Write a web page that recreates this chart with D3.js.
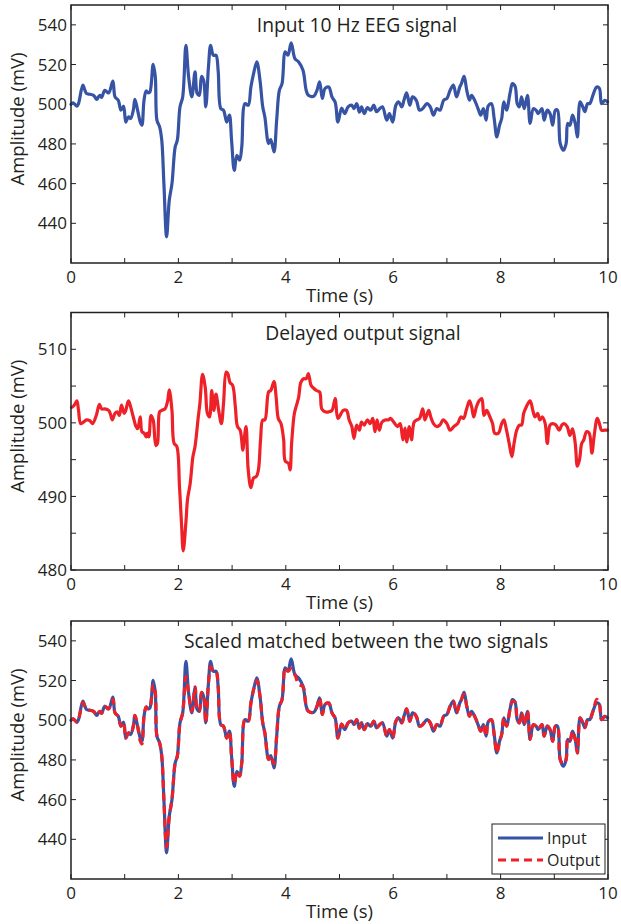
<!DOCTYPE html>
<html>
<head>
<meta charset="utf-8">
<script src="https://cdn.jsdelivr.net/npm/d3@7"></script>
<style>
  html, body { margin: 0; padding: 0; background: #fff; }
  svg { display: block; }
  text { font-family: "Open Sans", "Noto Sans", sans-serif; fill: #231f20; }
</style>
</head>
<body>
<svg id="chart" width="621" height="924"></svg>
<script>
// ---------------- DATA ----------------
const inputTime = [0.00,0.04,0.11,0.14,0.22,0.26,0.29,0.35,0.42,0.48,0.51,0.54,0.57,0.63,0.70,0.78,0.82,0.88,0.93,0.98,
1.02,1.07,1.11,1.16,1.19,1.24,1.29,1.32,1.36,1.40,1.44,1.47,1.53,1.57,1.60,1.65,1.69,1.73,1.78,1.83,1.88,1.94,1.98,
2.03,2.08,2.14,2.19,2.25,2.31,2.35,2.39,2.43,2.47,2.51,2.56,2.60,2.65,2.70,2.74,2.79,2.84,2.90,2.95,2.99,
3.04,3.09,3.14,3.18,3.24,3.30,3.35,3.40,3.46,3.52,3.57,3.61,3.68,3.72,3.78,3.83,3.88,3.93,3.99,
4.04,4.10,4.17,4.24,4.32,4.38,4.42,4.52,4.58,4.63,4.68,4.73,4.80,4.86,4.92,4.97,
5.04,5.10,5.16,5.23,5.27,5.32,5.37,5.41,5.46,5.52,5.58,5.64,5.69,5.75,5.80,5.88,5.93,5.99,
6.05,6.10,6.16,6.20,6.25,6.31,6.36,6.43,6.49,6.55,6.63,6.69,6.75,6.81,6.87,6.94,
7.00,7.06,7.12,7.18,7.24,7.27,7.32,7.37,7.42,7.46,7.53,7.59,7.63,7.68,7.73,7.77,7.83,7.88,7.93,7.98,
8.02,8.06,8.11,8.18,8.22,8.27,8.31,8.35,8.39,8.44,8.50,8.55,8.61,8.66,8.70,8.77,8.81,8.87,8.92,8.97,
9.02,9.06,9.11,9.17,9.22,9.25,9.29,9.34,9.39,9.43,9.48,9.53,9.57,9.62,9.66,9.73,9.79,9.84,9.88,9.94,9.99];

const inputValues = [500,500.7,499,500.3,509.6,507,505.4,505,504.5,502.4,503.7,504.5,503.4,507,505.7,511.6,503.7,502,497,499,
491,493.6,492.8,497,502.4,497,491,489.4,502,506.7,505.7,506.2,520.1,513.8,492,488.6,481.9,460,433.2,451.6,460,478.5,481.9,
498.7,503.7,529.7,513.8,503.7,516.3,505.4,504.5,514,512,498.7,518.8,529.7,524.7,524.7,517,497.8,497,491,494.5,481.9,
466.7,474.3,471.8,478.5,500.3,499.5,508.7,515.4,521.3,512,498.7,493.6,480.2,482.2,476,492,507,510.4,526.4,
524.7,530.9,523,521.3,517.1,507,504.5,504,507,511.3,502.9,507.9,508.7,503.7,501,491,
498,495.3,498.7,499.5,497.8,500.3,496,498.7,495.3,498.3,497,499.5,496.2,497.8,498.7,492,495.3,491,
499.5,501.2,498.7,502,505.7,499.5,503.7,502,497,497.8,500.3,498.7,494.5,497.8,497,502,
502.9,507,509.6,503.7,508.7,510.4,514.1,507,502,504.5,501.2,497,494.5,497.8,492,499.2,500.3,492.8,483.5,489.4,
492.8,501.2,497,506.2,510.4,509,500.3,498.7,503.7,497.8,504.5,490.3,497.8,497,495.3,497.8,492,497,495.3,489.4,
497,497,480.2,476.8,480.2,490.3,489.4,494.5,490.3,483.5,501.2,498.7,496.2,500.3,500.3,505.4,508.7,508,500.3,502,501.2];

// rescaled delayed output (same time base as input)
const matchedValues = [500,500.7,499,500.3,509,507,505.4,505,504.5,502.4,503.7,504.5,503.4,507,505.7,510.5,503.7,502,497,499,
491,493.6,492.8,497,502.4,497,489.5,488,502,506.7,505.7,506.2,518,513.8,492,488.6,481.9,460,436,451.6,460,478.5,481.9,
498.7,503.7,522,513.8,504.5,516.8,505.4,504.5,514,512,498.7,518.8,527,524.7,524.7,517,497.8,497,491,494.5,481.9,
468,474.3,471.8,478.5,500.3,499.5,508.7,515.4,520,512,498.7,493.6,480.2,482.2,478,492,507,510.4,526.4,
524.7,526,523,518,517,507,504.5,504,507,511.3,502.9,507.9,508.7,503.7,501,491,
498,495.3,498.7,499.5,497.8,500.3,496,498.7,495.3,498.3,497,499.5,496.2,497.8,498.7,492,495.3,491,
499.5,501.2,498.7,502,505.7,499.5,503.7,502,497,497.8,500.3,498.7,494.5,497.8,497,502,
502.9,507,509.6,503.7,508.7,510.4,513,507,502,504.5,501.2,497,494.5,497.8,492,499.2,500.3,492.8,483.5,489.4,
492.8,501.2,497,506.2,509.5,509,500.3,498.7,503.7,497.8,504.5,490.3,497.8,497,495.3,497.8,492,497,495.3,489.4,
497,497,480.2,478,480.2,490.3,489.4,494.5,490.3,483.5,501.2,498.7,496.2,500.3,500.3,505.4,510.5,508,500.3,502,501.2];

const outputTime = [0.01,0.06,0.11,0.14,0.18,0.23,0.29,0.35,0.40,0.47,0.53,0.57,0.63,0.70,0.73,0.77,0.82,0.86,0.90,0.94,0.99,
1.02,1.07,1.11,1.16,1.21,1.24,1.29,1.32,1.36,1.40,1.42,1.45,1.49,1.53,1.58,1.61,1.65,1.69,1.75,1.80,1.83,1.88,1.92,1.97,
2.02,2.06,2.09,2.14,2.17,2.22,2.27,2.31,2.37,2.40,2.45,2.50,2.54,2.58,2.62,2.66,2.70,2.75,2.80,2.84,2.89,2.92,2.96,
3.01,3.06,3.10,3.15,3.20,3.22,3.26,3.30,3.35,3.40,3.45,3.49,3.53,3.57,3.61,3.68,3.72,3.78,3.82,3.86,3.91,3.96,3.99,
4.05,4.08,4.11,4.16,4.20,4.24,4.28,4.33,4.38,4.42,4.47,4.52,4.57,4.63,4.67,4.73,4.80,4.86,4.92,4.97,
5.07,5.13,5.18,5.23,5.27,5.32,5.37,5.41,5.46,5.52,5.57,5.62,5.66,5.70,5.74,5.79,5.85,5.91,5.95,
6.01,6.08,6.13,6.18,6.22,6.25,6.30,6.34,6.39,6.44,6.49,6.55,6.59,6.66,6.70,6.75,6.81,6.87,6.93,
7.00,7.06,7.13,7.20,7.26,7.31,7.36,7.42,7.46,7.50,7.55,7.60,7.65,7.69,7.74,7.79,7.85,7.89,7.96,
8.02,8.06,8.11,8.16,8.21,8.25,8.30,8.35,8.39,8.43,8.48,8.55,8.60,8.64,8.69,8.73,8.78,8.83,8.87,8.92,8.97,
9.03,9.09,9.14,9.18,9.24,9.29,9.34,9.39,9.43,9.47,9.51,9.55,9.60,9.65,9.70,9.74,9.80,9.84,9.88,9.94,9.99];

const outputValues = [502.1,502.4,503.0,501.7,499.9,500.1,500.4,500.3,499.9,501.0,502.5,501.9,501.9,501.7,501.3,500.4,501.3,501.5,501.0,502.4,501.3,
501.7,503.0,502.2,500.8,499.5,499.2,500.8,498.8,498.6,498.1,498.6,498.1,501.0,500.4,496.9,497.2,501.5,501.7,501.9,503.0,504.5,501.7,497.2,496.8,
491.4,486,482.6,486.5,489.6,491.8,495.4,496.8,500.8,502.6,506.6,504.8,501.3,500.8,504.4,501.7,503.9,501.7,499.9,502.6,506.9,506.7,505.5,
505.1,502.2,499.5,499.0,496.3,497.4,499.5,493.6,491.2,492.5,492.7,493.6,497.7,500.4,500.4,504.2,504.4,505.6,503.5,500.6,499.9,497.7,494.8,
494.5,493.6,497.4,501.3,502.4,503.5,505.5,506.0,506.0,506.7,505.1,504.7,504.4,504.2,501.9,501.5,501.5,501.7,503.3,500.6,
501.7,501.7,500.4,499.5,497.9,499.7,499.0,500.1,499.7,500.4,499.9,500.6,498.8,500.4,499.0,500.1,500.4,500.4,500.6,
500.1,499.5,499.9,497.7,499.3,497.4,499.5,497.7,500.1,500.4,500.6,501.9,500.4,501.7,500.8,499.9,499.5,499.7,500.4,
499.9,499.0,499.5,499.9,500.8,500.6,501.7,503.0,502.2,500.8,502.2,503.0,503.3,501.0,501.7,501.0,499.9,498.6,498.6,
499.9,500.4,499.0,497.2,495.4,497.2,499.0,499.7,499.7,501.3,502.2,503.0,501.7,500.8,501.3,500.4,500.8,499.9,497.2,499.7,499.9,
499.7,499.0,499.7,499.9,499.5,498.3,499.2,497.2,494.1,495.0,497.2,497.7,498.8,498.6,495.9,498.1,500.6,499.9,499.0,499.0,499.0];

const xTicks = [0,1,2,3,4,5,6,7,8,9,10];
const xTickLabels = ["0","","2","","4","","6","","8","","10"];
const yTicksWide = [440,460,480,500,520,540];
const yTicksNarrow = [480,485,490,495,500,505,510];
const yTickLabelsNarrow = ["480","","490","","500","","510"];
const titles = ["Input 10 Hz EEG signal","Delayed output signal","Scaled matched between the two signals"];
const legendLabels = ["Input","Output"];

// ---------------- DRAW ----------------
const BLUE = "#3653a4";
const RED = "#ee2128";
const INK = "#231f20";
const svg = d3.select("#chart");
const left = 71, right = 608;

const x = d3.scaleLinear().domain([0, 10]).range([left, right]);

function panel(top, bottom, yDomain, yTicks, yLabels, title, titleX) {
  const y = d3.scaleLinear().domain(yDomain).range([bottom, top]);
  const g = svg.append("g");
  const tl = 5;
  g.selectAll(".xtb").data(xTicks).enter().append("line")
    .attr("x1", d => x(d)).attr("x2", d => x(d)).attr("y1", bottom).attr("y2", bottom - tl)
    .attr("stroke", INK).attr("stroke-width", 1);
  g.selectAll(".xtt").data(xTicks).enter().append("line")
    .attr("x1", d => x(d)).attr("x2", d => x(d)).attr("y1", top).attr("y2", top + tl)
    .attr("stroke", INK).attr("stroke-width", 1);
  g.selectAll(".ytl").data(yTicks).enter().append("line")
    .attr("x1", left).attr("x2", left + tl).attr("y1", d => y(d)).attr("y2", d => y(d))
    .attr("stroke", INK).attr("stroke-width", 1);
  g.selectAll(".ytr").data(yTicks).enter().append("line")
    .attr("x1", right).attr("x2", right - tl).attr("y1", d => y(d)).attr("y2", d => y(d))
    .attr("stroke", INK).attr("stroke-width", 1);
  g.selectAll(".xl").data(xTicks).enter().append("text")
    .attr("x", d => x(d)).attr("y", bottom + 20)
    .attr("text-anchor", "middle").attr("font-size", 17)
    .text((d, i) => xTickLabels[i]);
  g.selectAll(".yl").data(yTicks).enter().append("text")
    .attr("x", left - 4).attr("y", d => y(d)).attr("dy", "0.36em")
    .attr("text-anchor", "end").attr("font-size", 17)
    .text((d, i) => yLabels ? yLabels[i] : String(d));
  g.append("text").attr("x", (left + right) / 2).attr("y", bottom + 39)
    .attr("text-anchor", "middle").attr("font-size", 18.5).text("Time (s)");
  g.append("text")
    .attr("transform", `translate(17,${(top + bottom) / 2 - 15}) rotate(-90)`)
    .attr("text-anchor", "middle").attr("dy", "0.36em").attr("font-size", 18.5)
    .text("Amplitude (mV)");
  g.append("text").attr("x", titleX).attr("y", top + 27)
    .attr("text-anchor", "middle").attr("font-size", 19.3).text(title);
  return { g, y };
}

function drawLine(g, y, ts, vs, color, dash) {
  const line = d3.line().x(d => x(d[0])).y(d => y(d[1])).curve(d3.curveCatmullRom.alpha(0.5));
  const p = g.append("path").datum(ts.map((t, i) => [t, vs[i]]))
    .attr("d", line).attr("fill", "none").attr("stroke", color)
    .attr("stroke-width", 3.2).attr("stroke-linejoin", "round").attr("stroke-linecap", dash ? "butt" : "round");
  if (dash) p.attr("stroke-dasharray", dash);
}

function frame(g, top, bottom) {
  g.append("rect").attr("x", left).attr("y", top).attr("width", right - left).attr("height", bottom - top)
    .attr("fill", "none").attr("stroke", INK).attr("stroke-width", 1.5);
}

// Panel 1
const p1 = panel(5, 263, [420, 550], yTicksWide, null, titles[0], 357);
drawLine(p1.g, p1.y, inputTime, inputValues, BLUE);
frame(p1.g, 5, 263);

// Panel 2
const p2 = panel(312.5, 570, [480, 515], yTicksNarrow, yTickLabelsNarrow, titles[1], 363);
drawLine(p2.g, p2.y, outputTime, outputValues, RED);
frame(p2.g, 312.5, 570);

// Panel 3
const p3 = panel(621, 879, [420, 550], yTicksWide, null, titles[2], 366);
drawLine(p3.g, p3.y, inputTime, inputValues, BLUE);
drawLine(p3.g, p3.y, inputTime, matchedValues, RED, "8,5");
frame(p3.g, 621, 879);

// Legend
const lg = svg.append("g");
lg.append("rect").attr("x", 492).attr("y", 824).attr("width", 113).attr("height", 50)
  .attr("fill", "#fff").attr("stroke", INK).attr("stroke-width", 1);
const legendColors = [BLUE, RED];
const legendDash = [null, "8,5"];
legendLabels.forEach((lab, i) => {
  const yy = 838 + i * 22;
  const l = lg.append("line").attr("x1", 498).attr("x2", 543).attr("y1", yy).attr("y2", yy)
    .attr("stroke", legendColors[i]).attr("stroke-width", 3);
  if (legendDash[i]) l.attr("stroke-dasharray", legendDash[i]);
  lg.append("text").attr("x", 547).attr("y", yy).attr("dy", "0.36em")
    .attr("font-size", 16).text(lab);
});
</script>
</body>
</html>
